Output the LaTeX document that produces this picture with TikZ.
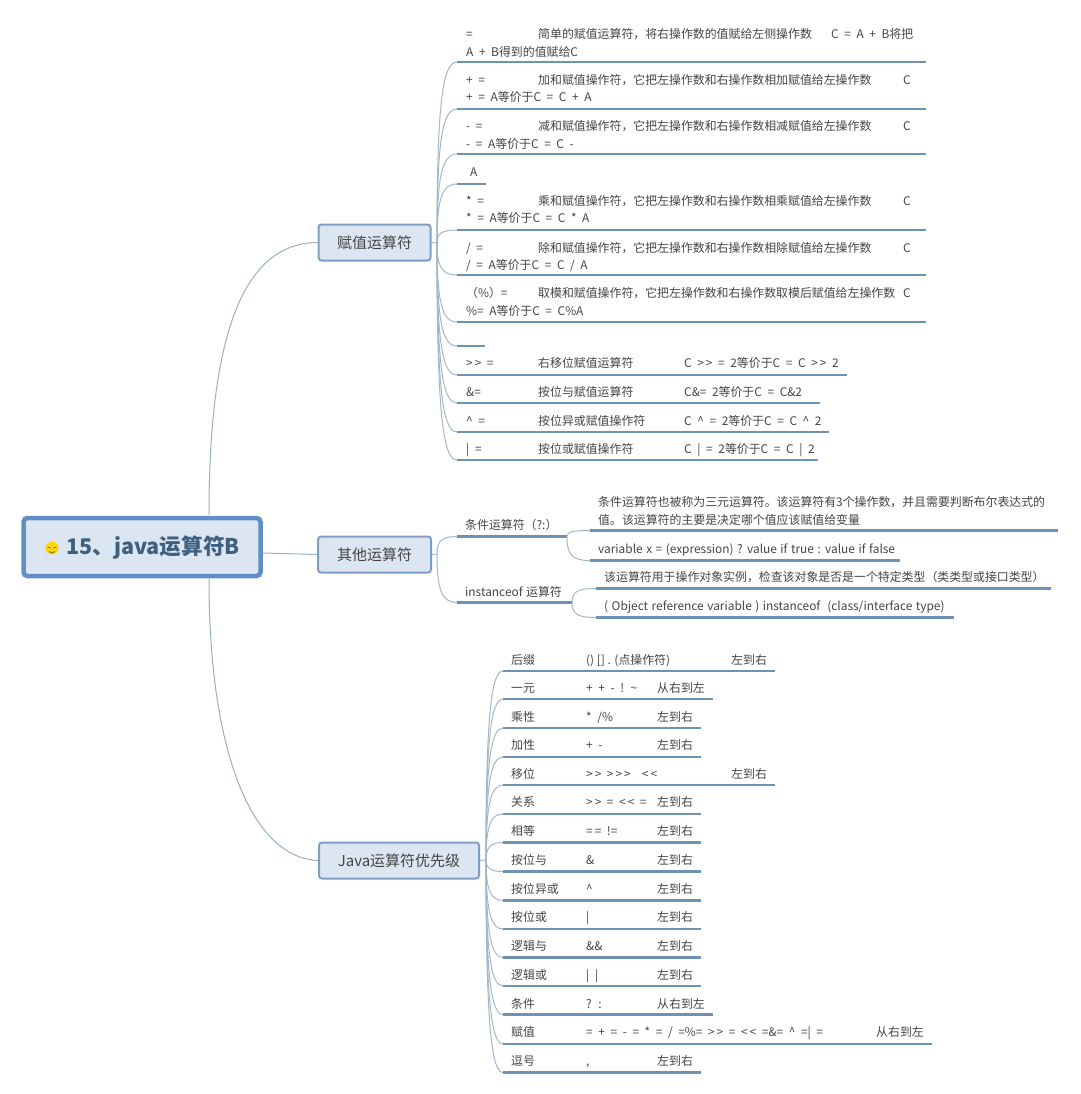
\documentclass[tikz,border=0pt]{standalone}
\usepackage{fontspec}
\setmainfont{Noto Sans CJK SC}
\newcommand{\opf}{\spaceskip=5.6pt\relax}
\newcommand{\enf}{\spaceskip=3.5pt\relax}
\usetikzlibrary{calc}
\definecolor{ink}{HTML}{444444}
\definecolor{rootink}{HTML}{3F5F7F}
\definecolor{boxfill}{HTML}{DCE6F2}
\definecolor{rootedge}{HTML}{5F8FC4}
\definecolor{hubedge}{HTML}{7E9FC2}
\definecolor{uline}{HTML}{6E92B4}
\definecolor{branchc}{HTML}{A3B7C6}
\newcounter{txc}
\newcounter{lfc}
\tikzset{
  tx/.style={anchor=west,inner sep=0pt,text=ink,font=\fontsize{11.9pt}{12pt}\selectfont,text height=10.5pt,text depth=2pt},
  hubbox/.style={draw=hubedge,line width=2pt,fill=boxfill,rounded corners=3pt,text=ink,font=\fontsize{15pt}{17pt}\selectfont,inner sep=0pt,anchor=center},
  rootbox/.style={draw=rootedge,line width=4.5pt,fill=boxfill,rounded corners=4pt,inner sep=0pt,anchor=center},
  uln/.style={draw=uline,line width=2.8pt},
  branch/.style={draw=branchc,line width=1pt},
  mainbranch/.style={draw=branchc!80!uline,line width=1pt}
}
% text piece
\newcommand{\tp}[3]{\stepcounter{txc}\node[tx] (t\arabic{txc}) at (#1,#2) {#3};}
% leaf: hub coordinate, start x, y, end x
\newcommand{\leafline}[4]{\stepcounter{lfc}%
  \coordinate (ls\arabic{lfc}) at (#2,#3);
  \coordinate (le\arabic{lfc}) at (#4,#3);
  \draw[branch] (#1) .. controls ($(#1)!0.75!(#1|-ls\arabic{lfc})$) and ($(#1|-ls\arabic{lfc})+(5,0)$) .. (ls\arabic{lfc});
  \draw[uln] (ls\arabic{lfc}) -- (le\arabic{lfc});}
\begin{document}
\begin{tikzpicture}[x=1pt,y=-1pt]
\useasboundingbox (0,0) rectangle (1080,1094);
% ---- boxes
\node[rootbox,minimum width=237pt,minimum height=58pt] (root) at (142,547) {};
\node[hubbox,minimum width=112pt,minimum height=36pt] (hubA) at (374.5,242.5) {赋值运算符};
\node[hubbox,minimum width=113pt,minimum height=36pt] (hubB) at (374.5,554.5) {其他运算符};
\node[hubbox,minimum width=160pt,minimum height=36pt] (hubC) at (399,860.5) {Java运算符优先级};
% root label
\node[inner sep=0pt,anchor=west,text=rootink,font=\fontsize{21.6pt}{23pt}\selectfont\bfseries] (roottext) at (66,548) {15、java运算符B};
\node[circle,fill=yellow!75!orange,minimum size=13pt,inner sep=0pt] (smile) at (52,548) {};
\draw[brown!70!black,line width=.7pt] (47.5,547) -- (50.5,548);
\draw[brown!70!black,line width=.7pt] (53.5,548) -- (56.5,547);
\draw[brown!70!black,line width=.7pt] (49,551.5) .. controls (51,553.5) and (53,553.5) .. (55,551.5);
% main branches
\coordinate (rootTop) at (209,515);
\coordinate (rootBot) at (209,579);
\coordinate (rootMid) at (263,553);
\draw[mainbranch] (rootTop) .. controls (209,330) and (245,243) .. (hubA.west);
\draw[mainbranch] (rootMid) -- (hubB.west);
\draw[mainbranch] (rootBot) .. controls (209,760) and (255,858) .. (hubC.west);
% ---- hub A
\coordinate (ha) at (437,243);
\draw[branch] (hubA.east) -- (ha);
\leafline{ha}{457}{62}{926}
\leafline{ha}{457}{109}{926}
\leafline{ha}{457}{154}{926}
\leafline{ha}{457}{184}{486}
\leafline{ha}{457}{230}{926}
\leafline{ha}{457}{275}{926}
\leafline{ha}{457}{322}{926}
\leafline{ha}{457}{346}{485}
\leafline{ha}{457}{375}{847}
\leafline{ha}{457}{403}{820}
\leafline{ha}{457}{432}{829}
\leafline{ha}{457}{460}{818}
\tp{466}{34}{=}\tp{538}{34}{简单的赋值运算符，将右操作数的值赋给左侧操作数}\tp{831}{34}{\opf C = A + B将把}
\tp{466}{52}{\opf A + B得到的值赋给C}
\tp{466}{80}{\opf + =}\tp{538}{80}{加和赋值操作符，它把左操作数和右操作数相加赋值给左操作数}\tp{903}{80}{C}
\tp{466}{97}{\opf + = A等价于C = C + A}
\tp{466}{126}{\opf - =}\tp{538}{126}{减和赋值操作符，它把左操作数和右操作数相减赋值给左操作数}\tp{903}{126}{C}
\tp{466}{144}{\opf - = A等价于C = C -}
\tp{470}{172.5}{A}
\tp{466}{201}{\opf * =}\tp{538}{201}{乘和赋值操作符，它把左操作数和右操作数相乘赋值给左操作数}\tp{903}{201}{C}
\tp{466}{218}{\opf * = A等价于C = C * A}
\tp{466}{248}{\opf / =}\tp{538}{248}{除和赋值操作符，它把左操作数和右操作数相除赋值给左操作数}\tp{903}{248}{C}
\tp{466}{265}{\opf / = A等价于C = C / A}
\tp{466}{293}{\opf （\%）=}\tp{538}{293}{取模和赋值操作符，它把左操作数和右操作数取模后赋值给左操作数}\tp{903}{293}{C}
\tp{466}{311}{\opf \%= A等价于C = C\%A}
\tp{466}{363}{\opf >\,> =}\tp{538}{363}{右移位赋值运算符}\tp{684}{363}{\opf C >\,> = 2等价于C = C >\,> 2}
\tp{466}{392}{\opf \&=}\tp{538}{392}{按位与赋值运算符}\tp{684}{392}{\opf C\&= 2等价于C = C\&2}
\tp{466}{421}{\opf \textasciicircum{} =}\tp{538}{421}{按位异或赋值操作符}\tp{684}{421}{\opf C \textasciicircum{} = 2等价于C = C \textasciicircum{} 2}
\tp{466}{449}{\opf | =}\tp{538}{449}{按位或赋值操作符}\tp{684}{449}{\opf C | = 2等价于C = C | 2}
% ---- hub B
\coordinate (hb) at (437,554);
\draw[branch] (hubB.east) -- (hb);
\leafline{hb}{457}{536.5}{567}
\coordinate (cond) at (567,536.5);
\leafline{hb}{457}{602.5}{572}
\coordinate (inst) at (572,602.5);
\tp{465}{525}{条件运算符（?:）}
\tp{465}{592}{\enf instanceof 运算符}
\leafline{cond}{590}{530.5}{1058}
\leafline{cond}{590}{560.5}{900}
\leafline{inst}{596}{588.5}{1051}
\leafline{inst}{596}{617.5}{954}
\tp{598}{502}{条件运算符也被称为三元运算符。该运算符有3个操作数，并且需要判断布尔表达式的}
\tp{598}{520}{值。该运算符的主要是决定哪个值应该赋值给变量}
\tp{598}{549}{\enf variable x = (expression) ? value if true : value if false}
\tp{604}{577}{该运算符用于操作对象实例，检查该对象是否是一个特定类型（类类型或接口类型）}
\tp{604}{606.5}{\enf ( Object reference variable ) instanceof \ (class/interface type)}
% ---- hub C
\coordinate (hc) at (486,860);
\draw[branch] (hubC.east) -- (hc);
\leafline{hc}{503}{671}{775}
\leafline{hc}{503}{699}{713}
\leafline{hc}{503}{728}{701}
\leafline{hc}{503}{757}{701}
\leafline{hc}{503}{785}{775}
\leafline{hc}{503}{814}{701}
\leafline{hc}{503}{842.5}{701}
\leafline{hc}{503}{871.5}{701}
\leafline{hc}{503}{900.5}{701}
\leafline{hc}{503}{929}{701}
\leafline{hc}{503}{957.5}{701}
\leafline{hc}{503}{986}{701}
\leafline{hc}{503}{1014.5}{713}
\leafline{hc}{503}{1044}{932}
\leafline{hc}{503}{1072.5}{701}
\tp{511}{660}{后缀}\tp{586}{660}{() [] . (点操作符)}\tp{731}{660}{左到右}
\tp{511}{688}{一元}\tp{586}{688}{\opf + + - ! \textasciitilde}\tp{657}{688}{从右到左}
\tp{511}{717}{乘性}\tp{586}{717}{\opf * /\%}\tp{657}{717}{左到右}
\tp{511}{745}{加性}\tp{586}{745}{\opf + -}\tp{657}{745}{左到右}
\tp{511}{774}{移位}\tp{586}{774}{\opf >\,> >\,>\,> \ <\,<}\tp{731}{774}{左到右}
\tp{511}{802}{关系}\tp{586}{802}{\opf >\,> = <\,< =}\tp{657}{802}{左到右}
\tp{511}{831}{相等}\tp{586}{831}{\opf =\,= !=}\tp{657}{831}{左到右}
\tp{511}{860}{按位与}\tp{586}{860}{\&}\tp{657}{860}{左到右}
\tp{511}{889}{按位异或}\tp{586}{889}{\textasciicircum}\tp{657}{889}{左到右}
\tp{511}{917.5}{按位或}\tp{586}{917.5}{|}\tp{657}{917.5}{左到右}
\tp{511}{946.5}{逻辑与}\tp{586}{946.5}{\&\&}\tp{657}{946.5}{左到右}
\tp{511}{975.5}{逻辑或}\tp{586}{975.5}{\opf | |}\tp{657}{975.5}{左到右}
\tp{511}{1004}{条件}\tp{586}{1004}{\opf ? :}\tp{657}{1004}{从右到左}
\tp{511}{1032.5}{赋值}\tp{586}{1032.5}{\opf = + = - = * = / =\%= >\,> = <\,< =\&= \textasciicircum{} =| =}\tp{876}{1032.5}{从右到左}
\tp{511}{1061.5}{逗号}\tp{586}{1061.5}{,}\tp{657}{1061.5}{左到右}
\end{tikzpicture}
\end{document}
